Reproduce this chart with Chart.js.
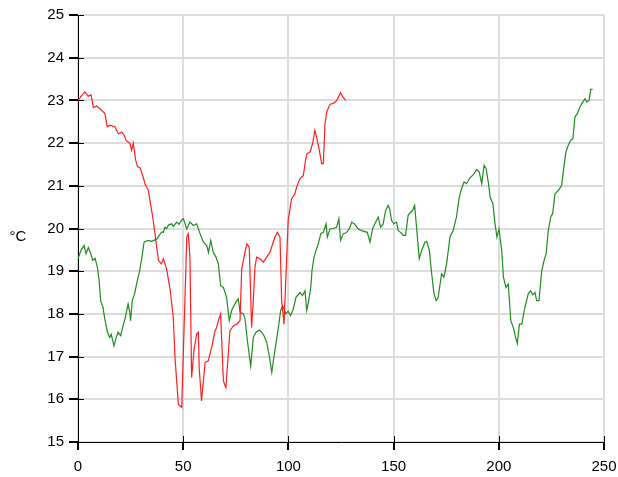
<!DOCTYPE html>
<html>
<head>
<meta charset="utf-8">
<script src="https://cdn.jsdelivr.net/npm/chart.js@4/dist/chart.umd.min.js"></script>
<style>
  html, body { margin: 0; padding: 0; background: #fff; }
  #wrap { width: 618px; height: 477px; position: relative; }
</style>
</head>
<body>
<div id="wrap"><canvas id="c"></canvas></div>
<script>
// Temperature readings (°C) against sample index
const redX = [
  0, 1.5, 3.3, 4.9, 6.2, 7.3, 8.9, 11.2, 12.8, 13.9,
  15.2, 17.6, 19.2, 20.8, 22, 22.8, 24.7, 25.5, 26.3, 27.4,
  28.3, 29.5, 31, 31.8, 33.4, 34.2, 35.5, 36.6, 37.4, 38.3,
  39.6, 40.6, 42.1, 43.7, 45.3, 46.1, 47.7, 49.3, 51.7, 52.4,
  53.2, 54, 55.1, 56.4, 57.2, 57.6, 58.7, 60.4, 61.9, 63.5,
  65.1, 65.9, 66.7, 67.8, 69.1, 70.3, 72.2, 73.8, 75.4, 77,
  77.8, 78.9, 80.2, 81.4, 82.5, 83.3, 84.1, 84.9, 86.5, 88.1,
  89.7, 91.2, 93.6, 94.8, 96, 96.8, 97.9, 99.2, 99.9, 101.5,
  103.1, 103.9, 105.5, 107.1, 107.9, 108.7, 110.3, 111.5, 112.6, 113.4,
  114.7, 115.8, 116.6, 117.4, 118.2, 119.8, 121.3, 122.9, 124.8, 125.8,
  127.4
];
const redY = [
  23.0, 23.1, 23.2, 23.1, 23.13, 22.83, 22.87, 22.77, 22.69, 22.38,
  22.42, 22.38, 22.22, 22.26, 22.18, 22.07, 21.99, 21.83, 22.0, 21.6,
  21.45, 21.42, 21.2, 21.05, 20.9, 20.66, 20.27, 19.88, 19.56, 19.25,
  19.17, 19.29, 19.05, 18.6, 17.92, 16.98, 15.88, 15.81, 19.8, 19.88,
  19.33, 16.51, 17.14, 17.53, 17.57, 16.74, 15.96, 16.86, 16.9, 17.21,
  17.6, 17.68, 17.84, 18.0, 16.43, 16.27, 17.6, 17.72, 17.76, 17.84,
  19.05, 19.33, 19.64, 19.56, 17.68, 18.3, 19.09, 19.33, 19.29, 19.21,
  19.33, 19.44, 19.8, 19.91, 19.8, 18.31, 17.76, 19.33, 20.19, 20.7,
  20.81, 20.97, 21.17, 21.24, 21.52, 21.75, 21.79, 21.99, 22.3, 22.14,
  21.83, 21.52, 21.52, 22.46, 22.73, 22.91, 22.93, 22.99, 23.18, 23.08,
  23.0
];

const greenX = [
  0, 1.5, 2.9, 3.8, 4.9, 6, 7, 8.1, 9.2, 10,
  10.8, 11.9, 12.6, 13.9, 15, 15.8, 17.1, 18.2, 19, 20.3,
  21.4, 22.5, 23.8, 24.6, 25, 25.8, 26.9, 28.2, 29.3, 30.4,
  31.4, 32.3, 33.4, 35, 37.4, 38.6, 39.8, 40.6, 41.3, 42.1,
  43, 44.5, 45.3, 46.9, 48, 49.3, 50.1, 51.7, 53.2, 54.8,
  56.4, 58, 59.6, 61.2, 62, 63.1, 64.3, 65.6, 66.7, 67.8,
  69.1, 70.6, 71.9, 73, 75.4, 76.2, 77, 78.6, 79.4, 80.5,
  82.1, 83.3, 84.6, 86.2, 87.3, 88.4, 89.7, 90.9, 92.1, 93.2,
  94.4, 95.7, 96.3, 97.3, 98.8, 99.9, 101, 102.3, 103.6, 105.5,
  106.7, 107.9, 108.7, 109.5, 110.6, 111.2, 112.2, 113.1, 114.2, 115.4,
  116.6, 117.9, 118.5, 119.8, 121.3, 122.9, 124, 124.8, 126.1, 127.5,
  128.9, 130.1, 131.5, 133.2, 134.8, 137.5, 138.8, 140, 141.1, 142.7,
  143.8, 145, 146.2, 147.4, 148.2, 149, 150.1, 151.4, 152.2, 153.3,
  154.6, 155.7, 156.9, 158.1, 159, 160, 160.9, 162.2, 163.3, 164.9,
  165.7, 167, 168.1, 169.2, 170.2, 171.2, 172.8, 173.9, 175.2, 176.8,
  178.3, 179.9, 181.2, 182.3, 183.5, 184.7, 186, 188.2, 189.5, 190.7,
  191.9, 193, 194, 195.1, 195.9, 197.2, 198.2, 199.1, 200.1, 201.4,
  202.2, 203.4, 204.5, 205.7, 206.9, 208.2, 208.8, 209.8, 210.9, 212.4,
  214, 215.1, 216.2, 217.2, 218, 219.1, 220.4, 221.5, 222.5, 223.5,
  224.7, 225.6, 226.7, 228.3, 229.9, 230.7, 231.9, 233, 234.2, 235.2,
  236.2, 237.3, 238.6, 239.9, 241, 241.8, 242.9, 243.7, 244.6
];
const greenY = [
  19.29, 19.5, 19.6, 19.41, 19.55, 19.42, 19.25, 19.3, 19.1, 18.8,
  18.3, 18.15, 17.92, 17.6, 17.45, 17.52, 17.25, 17.45, 17.57, 17.49,
  17.72, 17.92, 18.23, 18.04, 17.84, 18.31, 18.47, 18.78, 19.01, 19.33,
  19.68, 19.7, 19.72, 19.7, 19.75, 19.84, 19.92, 19.91, 20.03, 20.0,
  20.08, 20.11, 20.05, 20.15, 20.1, 20.2, 20.23, 19.99, 20.15, 20.07,
  20.11, 19.88, 19.68, 19.6, 19.44, 19.72, 19.44, 19.33, 19.17, 18.66,
  18.62, 18.39, 17.84, 18.08, 18.31, 18.35, 18.04, 18.0, 17.88, 17.37,
  16.78, 17.45, 17.57, 17.62, 17.57, 17.49, 17.33, 17.02, 16.63, 17.02,
  17.41, 17.84, 18.08, 18.19, 18.0, 18.06, 17.96, 18.11, 18.39, 18.5,
  18.43, 18.54, 18.08, 18.27, 18.6, 19.01, 19.33, 19.48, 19.64, 19.88,
  19.91, 20.11, 19.8, 19.99, 20.0, 20.03, 20.23, 19.72, 19.88, 19.9,
  19.99, 20.15, 20.1, 19.99, 19.95, 19.91, 19.68, 19.99, 20.11, 20.27,
  20.03, 20.1, 20.42, 20.54, 20.45, 20.19, 20.11, 20.15, 19.95, 19.91,
  19.84, 19.84, 20.31, 20.38, 20.42, 20.54, 20.03, 19.29, 19.48, 19.68,
  19.7, 19.48, 18.94, 18.47, 18.31, 18.39, 18.94, 18.86, 19.17, 19.8,
  19.95, 20.27, 20.73, 20.93, 21.09, 21.05, 21.17, 21.28, 21.38, 21.32,
  21.05, 21.48, 21.4, 21.05, 20.73, 20.58, 20.11, 19.8, 19.99, 19.48,
  18.86, 18.62, 18.7, 17.84, 17.68, 17.41, 17.31, 17.76, 17.76, 18.15,
  18.47, 18.54, 18.45, 18.5, 18.31, 18.31, 19.01, 19.25, 19.41, 19.95,
  20.27, 20.35, 20.81, 20.89, 21.01, 21.36, 21.79, 21.95, 22.07, 22.1,
  22.61, 22.69, 22.85, 22.96, 23.04, 22.96, 23.0, 23.26, 23.26
];

const xRange = [0, 250];
const yRange = [15, 25];
const unitLabel = '°C';

function toPoints(xs, ys) {
  return xs.map((x, i) => ({ x: x, y: ys[i] }));
}

// Short black tick stubs on the plot side of both axes, plus the unit label
const axisExtras = {
  id: 'axisExtras',
  beforeDatasetsDraw(chart) {
    const { ctx, chartArea, scales } = chart;
    ctx.save();
    ctx.strokeStyle = '#000';
    ctx.lineWidth = 1;
    ctx.beginPath();
    scales.y.ticks.forEach(t => {
      const py = Math.round(scales.y.getPixelForValue(t.value)) + 0.5;
      ctx.moveTo(chartArea.left, py);
      ctx.lineTo(chartArea.left + 6, py);
    });
    scales.x.ticks.forEach(t => {
      const px = Math.round(scales.x.getPixelForValue(t.value)) + 0.5;
      ctx.moveTo(px, chartArea.bottom);
      ctx.lineTo(px, chartArea.bottom - 6);
    });
    ctx.stroke();
    ctx.restore();
  },
  afterDraw(chart) {
    const { ctx, scales } = chart;
    ctx.save();
    ctx.fillStyle = '#000';
    ctx.font = '15px "Liberation Sans", Arial, sans-serif';
    ctx.textAlign = 'center';
    ctx.textBaseline = 'middle';
    ctx.fillText(unitLabel, 18, scales.y.getPixelForValue(19.8));
    ctx.restore();
  }
};

Chart.defaults.font.family = '"Liberation Sans", Arial, sans-serif';
Chart.defaults.font.size = 15;
Chart.defaults.color = '#000';

new Chart(document.getElementById('c'), {
  type: 'line',
  data: {
    datasets: [
      {
        data: toPoints(redX, redY),
        borderColor: 'rgb(255,30,30)',
        borderWidth: 1.2,
        pointRadius: 0,
        tension: 0,
        fill: false
      },
      {
        data: toPoints(greenX, greenY),
        borderColor: 'rgb(30,140,30)',
        borderWidth: 1.2,
        pointRadius: 0,
        tension: 0,
        fill: false
      }
    ]
  },
  options: {
    responsive: true,
    maintainAspectRatio: false,
    animation: false,
    layout: { padding: { left: 0, right: 14, top: 15, bottom: 0 } },
    plugins: { legend: { display: false }, tooltip: { enabled: false } },
    scales: {
      x: {
        type: 'linear',
        min: xRange[0],
        max: xRange[1],
        ticks: { stepSize: 50, padding: 8, maxRotation: 0 },
        grid: { color: '#dcdcdc', lineWidth: 2, tickColor: '#000', tickLength: 8 },
        border: { color: '#000', width: 1 },
        afterFit(scale) { scale.height = 35; scale.paddingLeft = 0; scale.paddingRight = 0; }
      },
      y: {
        min: yRange[0],
        max: yRange[1],
        ticks: { stepSize: 1, padding: 5 },
        grid: { color: '#dcdcdc', lineWidth: 2, tickColor: '#000', tickLength: 9 },
        border: { color: '#000', width: 1 },
        afterFit(scale) { scale.width = 78; scale.paddingTop = 0; scale.paddingBottom = 0; }
      }
    }
  },
  plugins: [axisExtras]
});
</script>
</body>
</html>
